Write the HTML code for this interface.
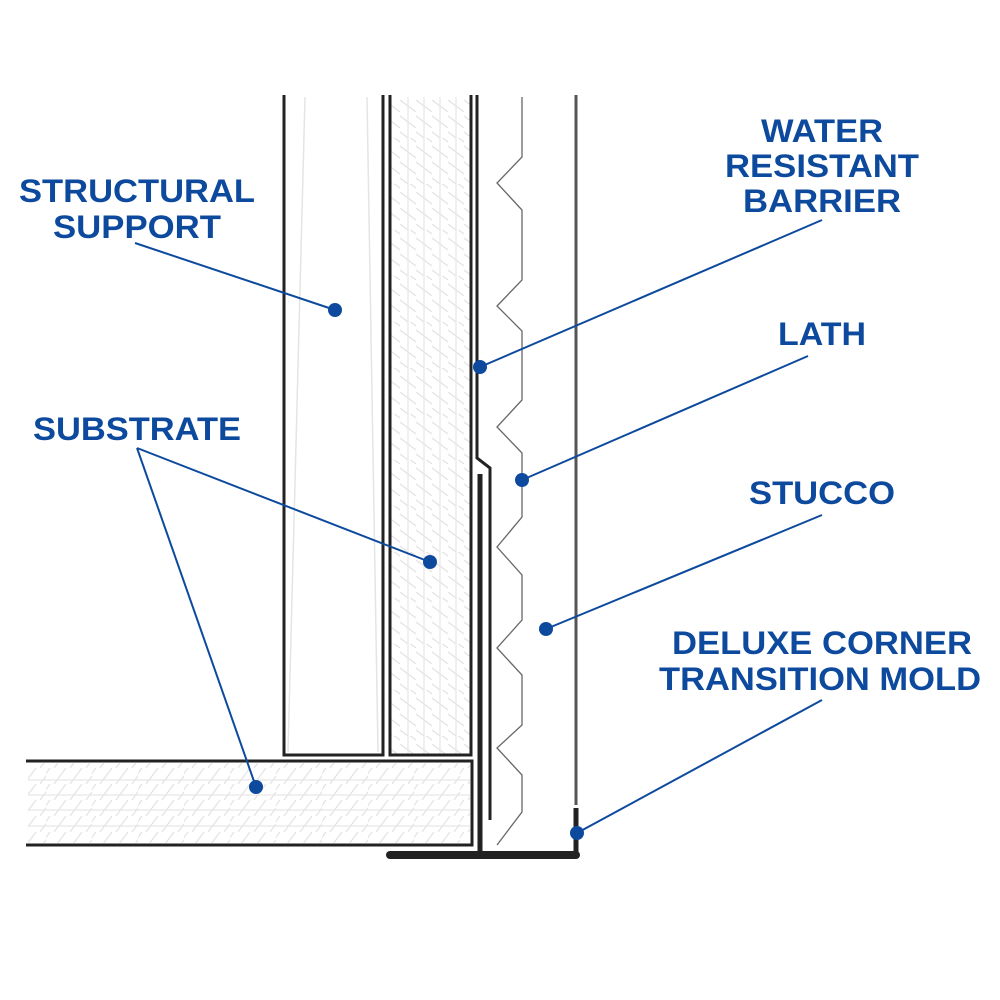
<!DOCTYPE html>
<html><head><meta charset="utf-8"><style>html,body{margin:0;padding:0;background:#fff}svg{display:block}</style></head>
<body>
<svg width="1000" height="1000" viewBox="0 0 1000 1000" xmlns="http://www.w3.org/2000/svg">
<defs>
<pattern id="hv" width="16" height="46" patternUnits="userSpaceOnUse">
<path d="M0,8 L16,20 M0,24 L16,36 M0,-8 L16,4 M0,40 L16,52" stroke="#e2e2e2" stroke-width="1.2" fill="none"/>
</pattern>
<pattern id="hh" width="46" height="16" patternUnits="userSpaceOnUse">
<path d="M8,16 L20,0 M24,16 L36,0 M-8,16 L4,0 M40,16 L52,0" stroke="#e2e2e2" stroke-width="1.2" fill="none"/>
</pattern>
</defs>
<rect x="391" y="97" width="79" height="657" fill="url(#hv)"/>
<g stroke="#e6e6e6" stroke-width="1.2">
<line x1="408" y1="97" x2="408" y2="754"/><line x1="424" y1="97" x2="424" y2="754"/><line x1="440" y1="97" x2="440" y2="754"/><line x1="456" y1="97" x2="456" y2="754"/>
</g>
<rect x="28" y="763" width="442" height="80" fill="url(#hh)"/>
<g stroke="#e6e6e6" stroke-width="1.2">
<line x1="28" y1="780" x2="470" y2="780"/><line x1="28" y1="795" x2="470" y2="795"/><line x1="28" y1="810" x2="470" y2="810"/><line x1="28" y1="826" x2="470" y2="826"/>
</g>
<line x1="305" y1="97" x2="288" y2="752" stroke="#e4e4e4" stroke-width="1.5"/>
<line x1="367" y1="97" x2="378" y2="752" stroke="#e4e4e4" stroke-width="1.5"/>
<path d="M284,95 L284,755 L383,755 L383,95" fill="none" stroke="#222" stroke-width="3"/>
<path d="M390,95 L390,755 L471,755 L471,95" fill="none" stroke="#222" stroke-width="3"/>
<path d="M26,761 L472,761 L472,845 L26,845" fill="none" stroke="#222" stroke-width="3"/>
<path d="M477,95 L477,458 L490,468 L490,820" fill="none" stroke="#222" stroke-width="3"/>
<path d="M480,474 L480,852" fill="none" stroke="#222" stroke-width="5"/>
<path d="M390,855 L576,855" stroke="#222" stroke-width="8" stroke-linecap="round"/>
<line x1="576" y1="808" x2="576" y2="858" stroke="#222" stroke-width="5"/>
<line x1="576" y1="95" x2="576" y2="805" stroke="#555" stroke-width="3"/>
<path d="M522,97 L522,157 L497,183 L522,210 L522,280 L497,306 L522,331 L522,400 L497,427 L522,453 L522,517 L497,547 L522,575 L522,620 L497,648 L522,675 L522,725 L497,748 L522,775 L522,812 L497,845" fill="none" stroke="#666" stroke-width="1.3"/>
<g stroke="#0d4a9e" stroke-width="2" fill="none">
<line x1="135" y1="243" x2="335" y2="310"/>
<line x1="822" y1="220" x2="480" y2="367"/>
<line x1="808" y1="356" x2="522" y2="480"/>
<line x1="137" y1="448" x2="430" y2="562"/>
<line x1="137" y1="448" x2="256" y2="787"/>
<line x1="822" y1="515" x2="546" y2="629"/>
<line x1="822" y1="700" x2="577" y2="833"/>
</g>
<g fill="#0d4a9e">
<circle cx="335" cy="310" r="7"/><circle cx="480" cy="367" r="7"/><circle cx="522" cy="480" r="7"/>
<circle cx="430" cy="562" r="7"/><circle cx="256" cy="787" r="7"/><circle cx="546" cy="629" r="7"/><circle cx="577" cy="833" r="7"/>
</g>
<g font-family="Liberation Sans, sans-serif" font-weight="bold" font-size="32" fill="#0d4a9e" text-anchor="middle">
<text x="137" y="202" textLength="236" lengthAdjust="spacingAndGlyphs">STRUCTURAL</text>
<text x="137" y="238" textLength="168" lengthAdjust="spacingAndGlyphs">SUPPORT</text>
<text x="822" y="142" textLength="122" lengthAdjust="spacingAndGlyphs">WATER</text>
<text x="822" y="177" textLength="194" lengthAdjust="spacingAndGlyphs">RESISTANT</text>
<text x="822" y="212" textLength="158" lengthAdjust="spacingAndGlyphs">BARRIER</text>
<text x="822" y="345" textLength="88" lengthAdjust="spacingAndGlyphs">LATH</text>
<text x="137" y="440" textLength="208" lengthAdjust="spacingAndGlyphs">SUBSTRATE</text>
<text x="822" y="504" textLength="146" lengthAdjust="spacingAndGlyphs">STUCCO</text>
<text x="822" y="654" textLength="300" lengthAdjust="spacingAndGlyphs">DELUXE CORNER</text>
<text x="820" y="690" textLength="322" lengthAdjust="spacingAndGlyphs">TRANSITION MOLD</text>
</g>
</svg>
</body></html>
